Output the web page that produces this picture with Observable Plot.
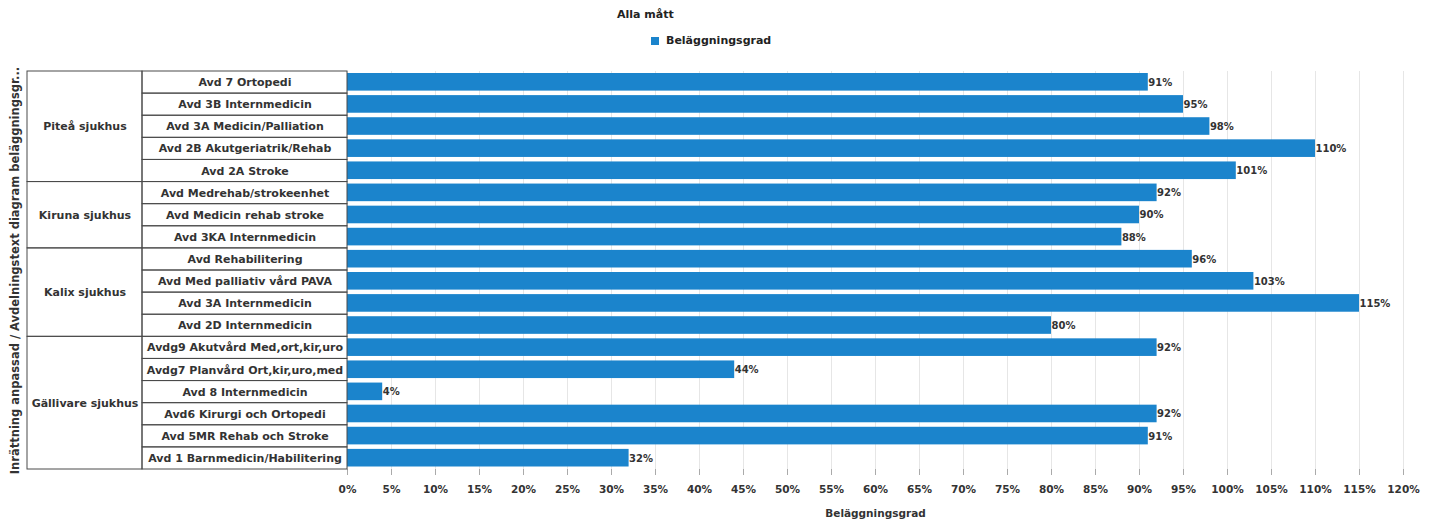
<!DOCTYPE html>
<html>
<head>
<meta charset="utf-8">
<script src="https://cdn.jsdelivr.net/npm/d3@7"></script>
<script src="https://cdn.jsdelivr.net/npm/@observablehq/plot@0.6"></script>
<style>
  html, body { margin: 0; padding: 0; background: #fff; }
  body { width: 1432px; height: 520px; overflow: hidden; font-family: "DejaVu Sans", Arial, sans-serif; }
  #legend { position: relative; height: 60px; font-weight: bold; font-size: 11px; color: #222; }
  #legend .title { position: absolute; left: 617px; top: 8px; }
  #legend .sw { position: absolute; left: 651px; top: 37px; width: 8px; height: 8px; background: #1b84cc; }
  #legend .lab { position: absolute; left: 666px; top: 34px; }
  #chart svg { display: block; }
</style>
</head>
<body>
<div id="legend">
  <div class="title">Alla mått</div>
  <div class="sw"></div>
  <div class="lab">Beläggningsgrad</div>
</div>
<div id="chart"></div>
<script>
const hospitals = ["Piteå sjukhus", "Kiruna sjukhus", "Kalix sjukhus", "Gällivare sjukhus"];
const hospitalCounts = [5, 3, 4, 6];
const departments = [
  "Avd 7 Ortopedi",
  "Avd 3B Internmedicin",
  "Avd 3A Medicin/Palliation",
  "Avd 2B Akutgeriatrik/Rehab",
  "Avd 2A Stroke",
  "Avd Medrehab/strokeenhet",
  "Avd Medicin rehab stroke",
  "Avd 3KA Internmedicin",
  "Avd Rehabilitering",
  "Avd Med palliativ vård PAVA",
  "Avd 3A Internmedicin",
  "Avd 2D Internmedicin",
  "Avdg9 Akutvård Med,ort,kir,uro",
  "Avdg7 Planvård Ort,kir,uro,med",
  "Avd 8 Internmedicin",
  "Avd6 Kirurgi och Ortopedi",
  "Avd 5MR Rehab och Stroke",
  "Avd 1 Barnmedicin/Habilitering"
];
const values = [91, 95, 98, 110, 101, 92, 90, 88, 96, 103, 115, 80, 92, 44, 4, 92, 91, 32];
const xTicks = [0, 5, 10, 15, 20, 25, 30, 35, 40, 45, 50, 55, 60, 65, 70, 75, 80, 85, 90, 95, 100, 105, 110, 115, 120];
const xTitle = "Beläggningsgrad";
const yTitle = "Inrättning anpassad / Avdelningstext diagram beläggningsgr...";

const rows = departments.map((d, i) => ({i, dept: d, value: values[i]}));
let start = 0;
const groups = hospitals.map((h, k) => {
  const g = {name: h, start, end: start + hospitalCounts[k]};
  start += hospitalCounts[k];
  return g;
});

const W = 1432, H = 460;
const mL = 347, mR = 29, mT = 11, mB = 51;
const frameW = W - mL - mR;
const deptColW = 205, tableW = 320;
const font = "DejaVu Sans, Arial, sans-serif";
const border = "#4a4a4a";

const plot = Plot.plot({
  width: W, height: H,
  marginLeft: mL, marginRight: mR, marginTop: mT, marginBottom: mB,
  style: {fontFamily: font, fontSize: "11px", fontWeight: "bold", color: "#333", background: "#fff"},
  x: {domain: [0, 120]},
  y: {domain: [0, departments.length], reverse: true, axis: null},
  marks: [
    Plot.ruleX(xTicks, {x: d => d, stroke: "#e6e6e6", strokeWidth: 1}),
    Plot.axisX({ticks: xTicks, tickFormat: d => d + "%", tickSize: 6, tickPadding: 10,
      stroke: "#aaa", fill: "#333", fontWeight: "bold", fontSize: 10.5,
      label: xTitle, labelAnchor: "center", labelOffset: 47, labelArrow: "none"}),
    Plot.rect(rows, {x1: 0, x2: "value", y1: d => d.i, y2: d => d.i + 1,
      insetTop: 2, insetBottom: 2.5, fill: "#1b84cc"}),
    Plot.text(rows, {x: "value", y: d => d.i + 0.5, text: d => d.value + "%",
      textAnchor: "start", dx: 0, fontSize: 10, fontWeight: "bold", fill: "#333"}),
    // department cells
    Plot.rect(rows, {y1: d => d.i, y2: d => d.i + 1, fill: "none", stroke: border,
      insetLeft: -deptColW, insetRight: frameW}),
    // hospital cells
    Plot.rect(groups, {y1: "start", y2: "end", fill: "none", stroke: border,
      insetLeft: -tableW, insetRight: frameW + deptColW}),
    Plot.text(rows, {y: d => d.i + 0.5, text: "dept", frameAnchor: "left",
      dx: -deptColW / 2, textAnchor: "middle", fontSize: 11, fontWeight: "bold", fill: "#333"}),
    Plot.text(groups, {y: d => (d.start + d.end) / 2, text: "name", frameAnchor: "left",
      dx: -(deptColW + (tableW - deptColW) / 2), textAnchor: "middle", fontSize: 11, fontWeight: "bold", fill: "#333"}),
    Plot.text([yTitle], {frameAnchor: "left", text: d => d, rotate: -90, dx: -(mL - 15),
      textAnchor: "middle", fontSize: 11.5, fontWeight: "bold", fill: "#333"})
  ]
});
document.getElementById("chart").appendChild(plot);
</script>
</body>
</html>
